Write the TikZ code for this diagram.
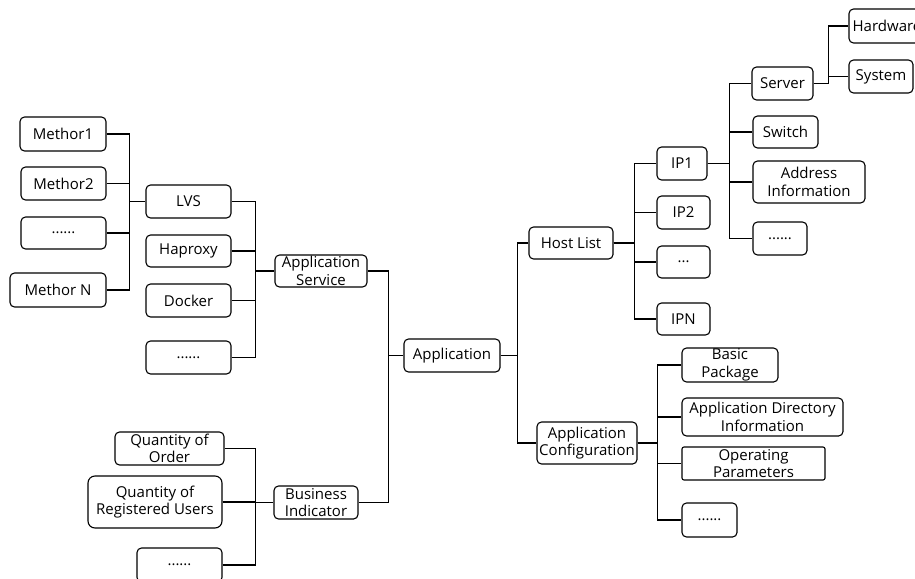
\documentclass[tikz,border=0pt]{standalone}
\usepackage{fontspec}
\setmainfont{Open Sans}
\begin{document}
\begin{tikzpicture}[x=1pt,y=-1pt,
  box/.style={draw=black,line width=1.1pt,rounded corners=4.5pt,inner sep=0pt,align=center,
    font=\fontsize{15}{17.5}\selectfont},
  conn/.style={draw=black,line width=1.6pt}]
\useasboundingbox (0,0) rectangle (915,578);
% left branch: methods
\node[box,minimum width=86pt,minimum height=34pt] (m1) at (63,134) {Methor1};
\node[box,minimum width=85pt,minimum height=33pt] (m2) at (63.5,183.5) {Methor2};
\node[box,minimum width=85pt,minimum height=32pt] (mdots) at (63.5,233) {......};
\node[box,minimum width=96pt,minimum height=34pt] (mN) at (58,290) {Methor N};
% services
\node[box,minimum width=85pt,minimum height=33pt] (lvs) at (188.5,201.5) {LVS};
\node[box,minimum width=85pt,minimum height=32pt] (hap) at (188.5,251) {Haproxy};
\node[box,minimum width=85pt,minimum height=33pt] (dock) at (188.5,300.5) {Docker};
\node[box,minimum width=85pt,minimum height=33pt] (sdots) at (188.5,357.5) {......};
\node[box,minimum width=92pt,minimum height=32pt] (appsvc) at (321,271) {Application\\Service};
% business
\node[box,minimum width=109pt,minimum height=33pt] (qoo) at (169.5,448.5) {Quantity of\\Order};
\node[box,minimum width=134pt,minimum height=52pt,rounded corners=7pt] (qru) at (155,502) {Quantity of\\Registered Users};
\node[box,minimum width=85pt,minimum height=34pt] (bdots) at (179.5,565) {......};
\node[box,minimum width=84pt,minimum height=33pt] (bi) at (316,502.5) {Business\\Indicator};
% root
\node[box,minimum width=96pt,minimum height=33pt] (app) at (452,355.5) {Application};
% right: host list
\node[box,minimum width=84pt,minimum height=32pt] (host) at (571,243) {Host List};
\node[box,minimum width=50pt,minimum height=33pt] (ip1) at (682,163.5) {IP1};
\node[box,minimum width=53pt,minimum height=33pt] (ip2) at (683.5,212.5) {IP2};
\node[box,minimum width=53pt,minimum height=32pt] (ipdots) at (683.5,262) {...};
\node[box,minimum width=53pt,minimum height=32pt] (ipn) at (683.5,319) {IPN};
\node[box,minimum width=61pt,minimum height=33pt] (server) at (782.5,83.5) {Server};
\node[box,minimum width=65pt,minimum height=32pt] (switch) at (785.5,132) {Switch};
\node[box,minimum width=112pt,minimum height=42pt] (addr) at (809,182) {Address\\Information};
\node[box,minimum width=54pt,minimum height=33pt] (hdots) at (780,238.5) {......};
\node[box,minimum width=76pt,minimum height=34pt] (hw) at (887,26) {Hardware};
\node[box,minimum width=64pt,minimum height=33pt] (sys) at (881,76.5) {System};
% right: configuration
\node[box,minimum width=100pt,minimum height=42pt] (ac) at (587,443) {Application\\Configuration};
\node[box,minimum width=96pt,minimum height=34pt] (bp) at (730,365) {Basic\\Package};
\node[box,minimum width=161pt,minimum height=38pt] (adi) at (762.5,417) {Application Directory\\Information};
\node[box,minimum width=143pt,minimum height=33pt,rounded corners=2pt] (op) at (753.5,463.5) {Operating\\Parameters};
\node[box,minimum width=55pt,minimum height=34pt] (cdots) at (709.5,520) {......};
% connectors
\foreach \c in {m1,m2,mdots,mN}
  \draw[conn] (\c.east) -| ([xshift=-16pt]lvs.west) -- (lvs.west);
\foreach \c in {lvs,hap,dock,sdots}
  \draw[conn] (\c.east) -| ([xshift=-19pt]appsvc.west) -- (appsvc.west);
\foreach \c in {qoo,qru,bdots}
  \draw[conn] (\c.east) -| ([xshift=-18pt]bi.west) -- (bi.west);
\foreach \c in {appsvc,bi}
  \draw[conn] (\c.east) -| ([xshift=-15pt]app.west) -- (app.west);
\foreach \c in {host,ac}
  \draw[conn] (app.east) -- ([xshift=17pt]app.east) |- (\c.west);
\foreach \c in {ip1,ip2,ipdots,ipn}
  \draw[conn] (host.east) -- ([xshift=21pt]host.east) |- (\c.west);
\foreach \c in {server,switch,addr,hdots}
  \draw[conn] (ip1.east) -- ([xshift=22pt]ip1.east) |- (\c.west);
\foreach \c in {hw,sys}
  \draw[conn] (server.east) -- ([xshift=15pt]server.east) |- (\c.west);
\foreach \c in {bp,adi,op,cdots}
  \draw[conn] (ac.east) -- ([xshift=20pt]ac.east) |- (\c.west);
\end{tikzpicture}
\end{document}
